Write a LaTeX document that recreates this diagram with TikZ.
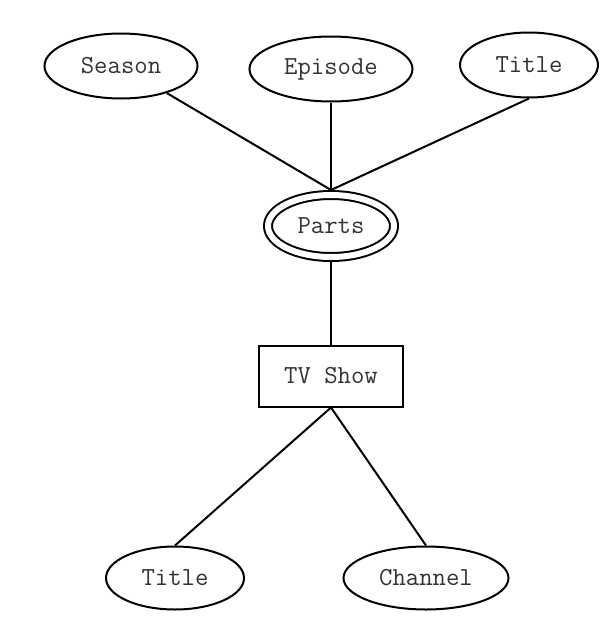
\documentclass[tikz,border=0pt]{standalone}
\usetikzlibrary{shapes.geometric}

\begin{document}
\begin{tikzpicture}[x=1pt, y=-1pt, line width=2pt,
    every node/.style={font=\fontsize{26}{30}\selectfont\ttfamily, text=black!80},
    attr/.style={draw=black, ellipse, inner sep=0pt},
    entity/.style={draw=black, rectangle, inner sep=0pt, minimum width=144pt, minimum height=61pt},
    weak/.style={draw=black, ellipse, double, double distance=6pt, outer sep=5pt, inner sep=0pt,
      minimum width=126pt, minimum height=62pt}]
    \useasboundingbox (0,0) rectangle (610,624);

    % Weak entity and its attributes
    \node[weak] (parts) at (331,226) {Parts};
    \node[attr, minimum width=153pt, minimum height=65pt] (season) at (121,66) {Season};
    \node[attr, minimum width=163pt, minimum height=65pt] (episode) at (331,69) {Episode};
    \node[attr, minimum width=138pt, minimum height=65pt] (ptitle) at (529,65) {Title};
    \draw (season) -- (parts.north);
    \draw (episode.south) -- (parts.north);
    \draw (ptitle.south) -- (parts.north);

    % Entity and its attributes
    \node[entity] (tvshow) at (331,376) {TV Show};
    \node[attr, minimum width=138pt, minimum height=63pt] (stitle) at (175,578) {Title};
    \node[attr, minimum width=165pt, minimum height=63pt] (channel) at (426,578) {Channel};
    \draw (parts.south) -- (tvshow.north);
    \draw (tvshow.south) -- (stitle.north);
    \draw (tvshow.south) -- (channel.north);
\end{tikzpicture}
\end{document}
